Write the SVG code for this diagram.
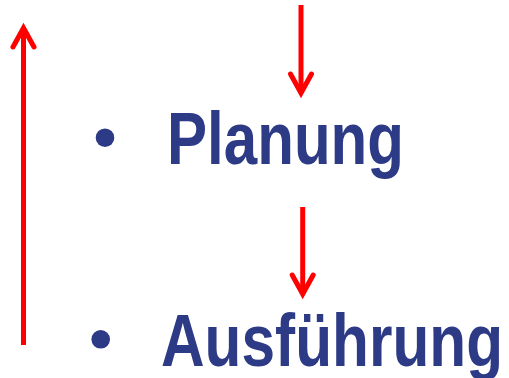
<svg xmlns="http://www.w3.org/2000/svg" width="509" height="378" viewBox="0 0 509 378">
<style>
.t{font-family:"Liberation Sans",Arial,sans-serif;font-weight:bold;font-size:74px;fill:#2D3A86}
.b{fill:#2D3A86}
.a{stroke:#FF0000;stroke-width:5;fill:none}
.h{stroke:#FF0000;stroke-width:5;fill:none;stroke-linecap:round;stroke-linejoin:miter}
</style>
<rect width="509" height="378" fill="#FFFFFF"/>
<g id="planung">
<circle class="b" cx="105" cy="137.7" r="9.3"/>
<text class="t" x="167" y="164" textLength="237" lengthAdjust="spacingAndGlyphs">Planung</text>
</g>
<g id="ausfuehrung">
<circle class="b" cx="100.7" cy="339.3" r="9.3"/>
<text class="t" x="161" y="365.5" textLength="342" lengthAdjust="spacingAndGlyphs">Ausführung</text>
</g>
<g id="connectors">
<line class="a" x1="23.5" y1="345" x2="23.5" y2="30"/>
<polyline class="h" points="13,47 23.5,28 34,47"/>
<line class="a" x1="301" y1="5" x2="301" y2="91"/>
<polyline class="h" points="290.5,74 301,93 311.5,74"/>
<line class="a" x1="302.7" y1="207" x2="302.7" y2="292"/>
<polyline class="h" points="292.2,275 302.7,294 313.2,275"/>
</g>
</svg>
